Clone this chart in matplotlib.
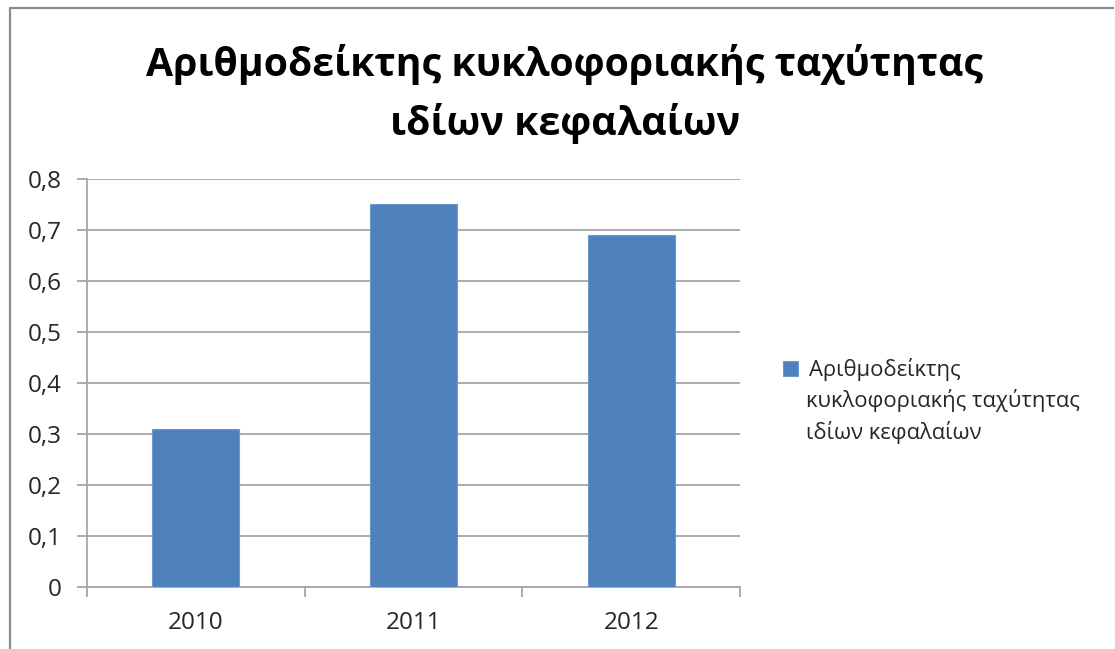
import numpy as np
import matplotlib
matplotlib.use('Agg')
import matplotlib.pyplot as plt
from matplotlib.lines import Line2D

years = ['2010', '2011', '2012']
values = [0.31, 0.75, 0.69]
yticks = [0, 0.1, 0.2, 0.3, 0.4, 0.5, 0.6, 0.7, 0.8]
ytick_labels = [('%g' % t).replace('.', ',') for t in yticks]

title = 'Αριθμοδείκτης κυκλοφοριακής ταχύτητας\nιδίων κεφαλαίων'
series_name = ['Αριθμοδείκτης', 'κυκλοφοριακής ταχύτητας', 'ιδίων κεφαλαίων']

bar_color = '#4f81bd'
grid_color = '#a6a6a6'
font = ['Open Sans', 'DejaVu Sans']

plt.rcParams['font.family'] = font

fig = plt.figure(figsize=(11.15, 6.49), dpi=100)
ax = fig.add_axes([87/1115, 1 - 587/649, (740 - 87)/1115, (587 - 179)/649])

x = np.arange(len(years))
ax.bar(x, values, width=0.4, color=bar_color, edgecolor='#6f98cc', linewidth=0.8,
       zorder=3, label=series_name[0])

ax.set_xlim(-0.5, len(years) - 0.5)
ax.set_ylim(0, 0.8)
ax.set_yticks(yticks)
ax.set_yticklabels(ytick_labels)
ax.set_xticks(x)
ax.set_xticklabels(years)
ax.set_xticks(np.arange(len(years) + 1) - 0.5, minor=True)

ax.yaxis.grid(True, color=grid_color, linewidth=1.3, zorder=0)
for s in ['top', 'right']:
    ax.spines[s].set_visible(False)
for s in ['left', 'bottom']:
    ax.spines[s].set_color(grid_color)
    ax.spines[s].set_linewidth(1.3)

ax.tick_params(axis='y', length=7, width=1.3, color=grid_color, pad=11,
               labelsize=17.5, labelcolor='#262626')
ax.tick_params(axis='x', which='major', length=0, pad=17,
               labelsize=17.5, labelcolor='#262626')
ax.tick_params(axis='x', which='minor', length=7, width=1.3, color=grid_color)

fig.text(565/1115, 1 - 44/649, title, ha='center', va='top', fontsize=28.3,
         fontweight='bold', linespacing=1.55, color='black')

# legend: square with first line, then the wrapped remainder
leg = ax.legend(loc='upper left', bbox_to_anchor=(783/1115, 1 - 358/649),
                bbox_transform=fig.transFigure, frameon=False, fontsize=15.8,
                handlelength=0.7, handleheight=0.7, handletextpad=0.5,
                borderpad=0, borderaxespad=0, labelcolor='#262626')
fig.text(806/1115, 1 - 407/649, series_name[1], ha='left', va='baseline',
         fontsize=15.8, color='#262626')
fig.text(806/1115, 1 - 439/649, series_name[2], ha='left', va='baseline',
         fontsize=15.8, color='#262626')

# chart area border (top and left edges)
fig.add_artist(Line2D([10/1115, 10/1115, 1113/1115], [0, 1 - 8/649, 1 - 8/649],
                      transform=fig.transFigure, color='#8c8c8c', linewidth=1.6))

fig.savefig('out.png', dpi=100, facecolor='white')
